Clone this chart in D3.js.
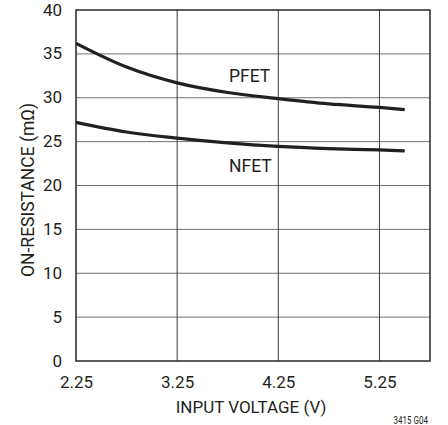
<!DOCTYPE html>
<html lang="en">
<head>
<meta charset="utf-8">
<title>On-Resistance vs Input Voltage</title>
<script src="https://cdn.jsdelivr.net/npm/d3@7"></script>
<style>
  body { margin: 0; background: #fff; }
  svg text { font-family: "Liberation Sans Narrow", "Roboto", "Liberation Sans", sans-serif; fill: #231f20; }
</style>
</head>
<body>
<script>
// data
var voltage = [2.25, 2.75, 3.25, 3.75, 4.25, 4.75, 5.25, 5.5];
var pfet = [36.2, 33.5, 31.7, 30.6, 29.9, 29.3, 28.9, 28.65];
var nfet = [27.2, 26.1, 25.4, 24.85, 24.45, 24.2, 24.05, 23.95];
var xTicks = [2.25, 3.25, 4.25, 5.25];
var yTicks = [0, 5, 10, 15, 20, 25, 30, 35, 40];

var w = 448, h = 425;
var plotL = 76, plotR = 430, plotT = 10, plotB = 361;

var svg = d3.select("body").append("svg")
  .attr("width", w)
  .attr("height", h);

var x = d3.scaleLinear().domain([2.25, 5.75]).range([plotL, plotR]);
var y = d3.scaleLinear().domain([0, 40]).range([plotB, plotT]);

// grid
svg.append("g").selectAll("line")
  .data(yTicks.slice(1, -1))
  .enter().append("line")
  .attr("x1", plotL).attr("x2", plotR)
  .attr("y1", function(d) { return y(d); })
  .attr("y2", function(d) { return y(d); })
  .attr("stroke", "#707070")
  .attr("stroke-width", 1);

svg.append("g").selectAll("line")
  .data(xTicks.slice(1))
  .enter().append("line")
  .attr("y1", plotT).attr("y2", plotB)
  .attr("x1", function(d) { return x(d); })
  .attr("x2", function(d) { return x(d); })
  .attr("stroke", "#3a3a3a")
  .attr("stroke-width", 1);

// frame
svg.append("rect")
  .attr("x", plotL).attr("y", plotT)
  .attr("width", plotR - plotL).attr("height", plotB - plotT)
  .attr("fill", "none")
  .attr("stroke", "#333")
  .attr("stroke-width", 1.6);

// tick labels
var yAxis = d3.axisLeft(y).tickValues(yTicks).tickSize(0).tickPadding(14);
var gy = svg.append("g").attr("transform", "translate(" + plotL + ",0)").call(yAxis);
gy.select(".domain").remove();
gy.selectAll("text").attr("font-size", 17).attr("font-family", null).attr("dy", "0.3em");

var xAxis = d3.axisBottom(x).tickValues(xTicks).tickFormat(d3.format(".2f")).tickSize(0);
var gx = svg.append("g").attr("transform", "translate(0," + plotB + ")").call(xAxis);
gx.select(".domain").remove();
gx.selectAll("text").attr("font-size", 17).attr("font-family", null).attr("y", 27).attr("dy", 0);

// curves
var line = d3.line()
  .x(function(d) { return x(d[0]); })
  .y(function(d) { return y(d[1]); })
  .curve(d3.curveMonotoneX);

[pfet, nfet].forEach(function(s) {
  svg.append("path")
    .datum(d3.zip(voltage, s))
    .attr("d", line)
    .attr("fill", "none")
    .attr("stroke", "#231f20")
    .attr("stroke-width", 3.2);
});

// curve labels
svg.append("text").attr("x", 229).attr("y", 81.5).attr("font-size", 17.5).text("PFET");
svg.append("text").attr("x", 229).attr("y", 171.5).attr("font-size", 17.5).text("NFET");

// axis titles
svg.append("text")
  .attr("x", 251).attr("y", 413)
  .attr("text-anchor", "middle")
  .attr("font-size", 17)
  .text("INPUT VOLTAGE (V)");

svg.append("text")
  .attr("transform", "translate(34,190) rotate(-90)")
  .attr("text-anchor", "middle")
  .attr("font-size", 17.5)
  .text("ON-RESISTANCE (mΩ)");

svg.append("text")
  .attr("transform", "translate(428,424) scale(0.8,1)")
  .attr("text-anchor", "end")
  .attr("font-size", 10)
  .text("3415 G04");
</script>
</body>
</html>
